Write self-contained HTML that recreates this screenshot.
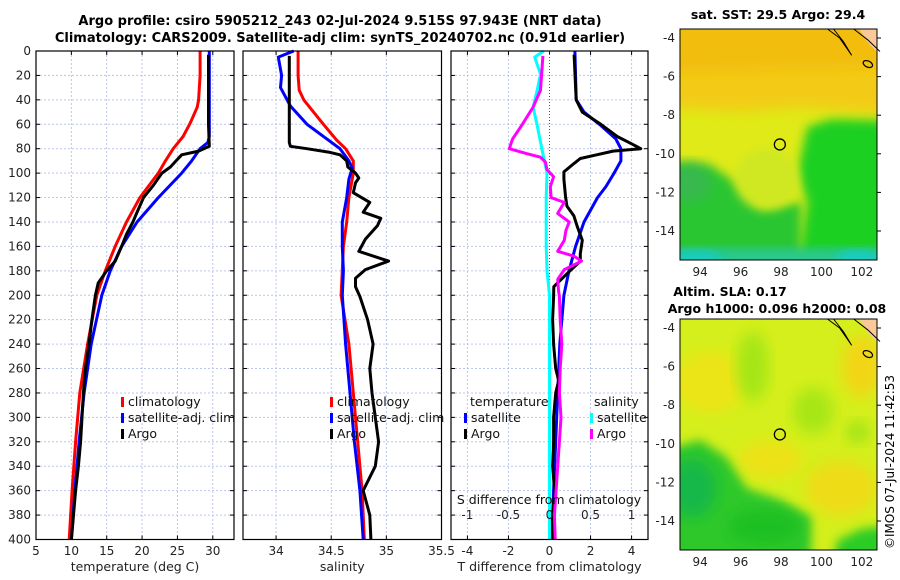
<!DOCTYPE html>
<html><head><meta charset="utf-8"><style>
html,body{margin:0;padding:0;background:#fff;}
svg{display:block;font-family:"DejaVu Sans","Liberation Sans",sans-serif;}
</style></head><body>
<svg id="chart" width="900" height="580" viewBox="0 0 900 580" xmlns="http://www.w3.org/2000/svg">
<defs>
<filter id="blur1" x="-20%" y="-20%" width="140%" height="140%"><feGaussianBlur stdDeviation="7"/></filter>
<filter id="blur2" x="-20%" y="-20%" width="140%" height="140%"><feGaussianBlur stdDeviation="5"/></filter>
<clipPath id="clipMap1"><rect x="680" y="29" width="197" height="231"/></clipPath>
<clipPath id="clipMap2"><rect x="680" y="319" width="197" height="231"/></clipPath>
</defs>
<text x="340" y="25" text-anchor="middle" font-size="13" font-weight="bold">Argo profile: csiro 5905212_243 02-Jul-2024 9.515S 97.943E (NRT data)</text>
<text x="340" y="42" text-anchor="middle" font-size="13" font-weight="bold">Climatology: CARS2009. Satellite-adj clim: synTS_20240702.nc (0.91d earlier)</text>
<text x="778" y="19" text-anchor="middle" font-size="12.5" font-weight="bold">sat. SST: 29.5 Argo: 29.4</text>
<text x="730" y="296" text-anchor="middle" font-size="12.5" font-weight="bold">Altim. SLA: 0.17</text>
<text x="777" y="313" text-anchor="middle" font-size="12.5" font-weight="bold">Argo h1000: 0.096 h2000: 0.08</text>
<text transform="translate(894,462) rotate(-90)" text-anchor="middle" font-size="12">©IMOS 07-Jul-2024 11:42:53</text>
<g id="g"></g>
</svg>
<script>
// ---- data ----
const depthsTempClim = [0,20,40,46,59,70,80,90,100,120,140,160,180,200,240,280,320,360,400];
const tempClim = [28.2,28.2,28.0,27.8,26.8,25.8,24.4,23.3,22.3,19.7,17.8,16.2,14.8,13.6,12.3,11.2,10.6,10.1,9.7];
const depthsTempSat = [0,20,40,60,70,75,80,90,100,120,140,160,180,200,240,280,320,360,400];
const tempSat = [29.5,29.5,29.5,29.5,29.5,29.3,28.2,27.0,25.6,22.3,19.3,17.1,15.5,14.3,12.8,11.8,11.1,10.5,10.0];
const depthsTempArgo = [3,20,40,60,78,82,85,90,95,100,110,120,132,140,150,160,172,180,190,200,220,240,260,280,300,320,340,360,380,400];
const tempArgo = [29.4,29.4,29.4,29.4,29.5,28.0,25.6,24.8,24.0,22.8,21.6,20.2,19.3,18.7,17.8,17.1,16.2,15.0,13.8,13.4,12.9,12.5,12.0,11.7,11.5,11.3,11.0,10.6,10.3,10.0];

const depthsSalClim = [0,20,32,40,59,73,80,90,100,120,140,160,180,200,240,280,320,360,400];
const salClim = [34.20,34.20,34.21,34.25,34.42,34.55,34.63,34.70,34.70,34.66,34.64,34.61,34.60,34.59,34.66,34.70,34.74,34.78,34.80];
const depthsSalSat = [0,5,20,30,45,60,72,80,90,96,105,120,140,160,180,200,240,280,320,360,400];
const salSat = [34.16,34.02,34.05,34.04,34.13,34.28,34.46,34.58,34.66,34.69,34.66,34.64,34.60,34.60,34.61,34.60,34.63,34.67,34.71,34.76,34.79];
const depthsSalArgo = [4,20,40,60,75,78,80,83,85,90,95,100,104,108,116,124,132,137,143,154,164,170,172,179,186,193,201,220,240,260,280,300,320,340,360,380,400];
const salArgo = [34.12,34.12,34.12,34.12,34.12,34.13,34.28,34.49,34.58,34.64,34.65,34.72,34.75,34.72,34.70,34.85,34.79,34.95,34.92,34.81,34.75,34.95,35.02,34.81,34.72,34.72,34.76,34.83,34.88,34.85,34.87,34.90,34.93,34.90,34.79,34.85,34.86];

const depthsTdiffSat = [0,40,50,61,72,80,90,100,111,120,140,160,180,200,240,280,320,360,400];
const tdiffSat = [1.24,1.3,1.68,2.5,3.23,3.48,3.48,3.15,2.75,2.34,1.68,1.27,0.95,0.70,0.5,0.4,0.3,0.2,0.1];
const depthsTdiffArgo = [3,40,50,60,70,76,80,82,85,88,92,99,105,119,127,135,144,155,166,172,182,193,201,220,240,260,270,280,300,320,340,360,380,400];
const tdiffArgo = [1.2,1.3,1.6,2.5,3.3,4.0,4.45,3.1,2.3,1.5,1.2,0.7,0.7,0.78,0.85,1.19,1.36,1.6,1.5,1.5,0.87,0.21,0.2,0.15,0.2,0.3,0.45,0.3,0.2,0.2,0.15,0.25,0.15,0.2];
const depthsSdiffSat = [0,5,19,32,46,61,81,100,120,160,180,200,300,400];
const sdiffSat = [-0.07,-0.18,-0.11,-0.15,-0.2,-0.15,-0.09,-0.03,-0.04,-0.04,-0.03,0,0,0];
const depthsSdiffArgo = [4,32,46,61,72,80,84,87,91,97,103,111,120,124,133,140,147,155,164,168,172,179,187,196,201,220,240,260,280,300,320,340,360,380,400];
const sdiffArgo = [-0.08,-0.11,-0.2,-0.34,-0.45,-0.49,-0.28,-0.11,-0.05,-0.03,0.05,0.01,0.02,0.18,0.1,0.24,0.2,0.18,0.1,0.3,0.39,0.18,0.1,0.11,0.12,0.13,0.15,0.13,0.12,0.14,0.12,0.1,0.08,0.06,0.07];

const depthTicks = [0,20,40,60,80,100,120,140,160,180,200,220,240,260,280,300,320,340,360,380,400];
const tempTicks = [5,10,15,20,25,30];
const salTicks = [34,34.5,35,35.5];
const tdiffTicks = [-4,-2,0,2,4];
const sdiffTicks = [-1,-0.5,0,0.5,1];
const latTicks = [-4,-6,-8,-10,-12,-14];
const lonTicks = [94,96,98,100,102];
const argoLon = 97.943, argoLat = -9.515;

// ---- scales ----
const Y0 = 51, Y1 = 539.5;
function yD(d){ return Y0 + d*(Y1-Y0)/400; }
function lin(d0,d1,r0,r1){ return v => r0 + (v-d0)*(r1-r0)/(d1-d0); }
const xTemp = lin(5,33,36,234);
const xSal = lin(33.7,35.5,243,441.5);
const xTd = lin(-4.8,4.8,451,648);
function xSd(s){ return xTd(4*s); }
function mLon(lon){ return 680 + (lon-93)*20.2; }
function mLat(lat){ return 38 + (-4-lat)*19.3; }

const NS = 'http://www.w3.org/2000/svg';
const root = document.getElementById('g');
function mk(tag, attrs, parent){
  const el = document.createElementNS(NS, tag);
  for (const k in attrs) el.setAttribute(k, attrs[k]);
  (parent||root).appendChild(el);
  return el;
}

function panel(name, x0, x1, xs, ticks, gridTicks, xlabel, showY){
  const g = mk('g', {});
  
  
  depthTicks.forEach(d => {
    const l = mk('line', {x1:x0, x2:x1, y1:yD(d), y2:yD(d), stroke:'#bcc6ee', 'stroke-width':1, 'stroke-dasharray':'2,2'}, g);
    
    
    const t1 = mk('line', {x1:x0, x2:x0+4, y1:yD(d), y2:yD(d), stroke:'#000'}, g);
    
    
    const t2 = mk('line', {x1:x1-4, x2:x1, y1:yD(d), y2:yD(d), stroke:'#000'}, g);
    
    
    if (showY){
      const tx = mk('text', {x:31, y:yD(d)+4, 'text-anchor':'end', 'font-size':12, fill:'#222'}, g);
      
      
      tx.textContent = d;
    }
  });
  gridTicks.forEach(v => {
    const x = xs(v);
    if (x <= x0+1 || x >= x1-1) return;
    const l = mk('line', {x1:x, x2:x, y1:Y0, y2:Y1, stroke:'#bcc6ee', 'stroke-width':1, 'stroke-dasharray':'2,2'}, g);
    
    
  });
  ticks.forEach(v => {
    const x = xs(v);
    const t = mk('line', {x1:x, x2:x, y1:Y1-4, y2:Y1, stroke:'#000'}, g);
    
    
    const t2 = mk('line', {x1:x, x2:x, y1:Y0, y2:Y0+4, stroke:'#000'}, g);
    
    
    const tx = mk('text', {x:x, y:555, 'text-anchor':'middle', 'font-size':12, fill:'#222'}, g);
    
    
    tx.textContent = v;
  });
  const xl = mk('text', {x:(x0+x1)/2, y:571, 'text-anchor':'middle', 'font-size':12.5, fill:'#222'}, g);
  
  
  xl.textContent = xlabel;
  return g;
}

function series(g, name, depths, vals, xs, color, w){
  const pts = depths.map((d,i) => xs(vals[i]).toFixed(1) + ',' + yD(d).toFixed(1)).join(' ');
  const p = mk('polyline', {points:pts, fill:'none', stroke:color, 'stroke-width':w||3, 'stroke-linejoin':'round'}, g);
  
  
}
function frame(g, x0, x1){
  const r = mk('rect', {x:x0, y:Y0, width:x1-x0, height:Y1-Y0, fill:'none', stroke:'#000', 'stroke-width':1.2}, g);
  
  
}
function legendItem(g, x, y, color, label, name){
  const b = mk('rect', {x:x, y:y-9, width:3, height:10, fill:color}, g);
  
  
  const t = mk('text', {x:x+7, y:y, 'font-size':12.5, fill:'#111'}, g);
  
  
  t.textContent = label;
}

// Panel 1: temperature
const p1 = panel('temperature', 36, 234, xTemp, tempTicks, [10,15,20,25,30], 'temperature (deg C)', true);
series(p1, 'temperature-climatology-line', depthsTempClim, tempClim, xTemp, '#ff0000');
series(p1, 'temperature-satellite-line', depthsTempSat, tempSat, xTemp, '#0000ff');
series(p1, 'temperature-argo-line', depthsTempArgo, tempArgo, xTemp, '#000000');
frame(p1, 36, 234);
legendItem(p1, 121, 406, '#ff0000', 'climatology', 'legend-climatology');
legendItem(p1, 121, 422, '#0000ff', 'satellite-adj. clim', 'legend-satellite');
legendItem(p1, 121, 438, '#000000', 'Argo', 'legend-argo');

// Panel 2: salinity
const p2 = panel('salinity', 243, 441.5, xSal, salTicks, [34,34.5,35], 'salinity', false);
series(p2, 'salinity-climatology-line', depthsSalClim, salClim, xSal, '#ff0000');
series(p2, 'salinity-satellite-line', depthsSalSat, salSat, xSal, '#0000ff');
series(p2, 'salinity-argo-line', depthsSalArgo, salArgo, xSal, '#000000');
frame(p2, 243, 441.5);
legendItem(p2, 330, 406, '#ff0000', 'climatology', 'legend-sal-climatology');
legendItem(p2, 330, 422, '#0000ff', 'satellite-adj. clim', 'legend-sal-satellite');
legendItem(p2, 330, 438, '#000000', 'Argo', 'legend-sal-argo');

// Panel 3: differences
const p3 = panel('difference', 451, 648, xTd, tdiffTicks, [-4,-2,2,4], 'T difference from climatology', false);
const zl = mk('line', {x1:xTd(0), x2:xTd(0), y1:Y0, y2:Y1, stroke:'#554', 'stroke-width':1, 'stroke-dasharray':'1,2'}, p3);


series(p3, 'tdiff-satellite-line', depthsTdiffSat, tdiffSat, xTd, '#0000ff');
series(p3, 'tdiff-argo-line', depthsTdiffArgo, tdiffArgo, xTd, '#000000');
series(p3, 'sdiff-satellite-line', depthsSdiffSat, sdiffSat, xSd, '#00ffff');
series(p3, 'sdiff-argo-line', depthsSdiffArgo, sdiffArgo, xSd, '#ff00ff');
frame(p3, 451, 648);
sdiffTicks.forEach(v => {
  const t = mk('text', {x:xSd(v), y:519, 'text-anchor':'middle', 'font-size':12, fill:'#222'}, p3);
  
  
  t.textContent = v;
});
const st = mk('text', {x:549, y:504, 'text-anchor':'middle', 'font-size':12.5, fill:'#111'}, p3);


st.textContent = 'S difference from climatology';
const lt1 = mk('text', {x:470, y:406, 'font-size':12.5, fill:'#111'}, p3);


lt1.textContent = 'temperature';
const lt2 = mk('text', {x:594, y:406, 'font-size':12.5, fill:'#111'}, p3);


lt2.textContent = 'salinity';
legendItem(p3, 464, 422, '#0000ff', 'satellite', 'legend-tdiff-satellite');
legendItem(p3, 464, 438, '#000000', 'Argo', 'legend-tdiff-argo');
legendItem(p3, 590, 422, '#00ffff', 'satellite', 'legend-sdiff-satellite');
legendItem(p3, 590, 438, '#ff00ff', 'Argo', 'legend-sdiff-argo');

// ---- maps ----
function blob(g, lon, lat, rxDeg, ryDeg, color, off, filt){
  const e = mk('ellipse', {cx:mLon(lon), cy:mLat(lat)+off, rx:rxDeg*20.2, ry:ryDeg*19.3, fill:color, filter:'url(#'+(filt||'blur1')+')'}, g);
  
  
}
function poly(g, pts, color, off, filt){
  const s = pts.map(p => mLon(p[0]).toFixed(1)+','+(mLat(p[1])+off).toFixed(1)).join(' ');
  const e = mk('polygon', {points:s, fill:color, filter: filt ? 'url(#'+filt+')' : ''}, g);
  
  
}
function mapAxes(g, off, name){
  latTicks.forEach(v => {
    const y = mLat(v)+off;
    const t = mk('text', {x:675, y:y+4, 'text-anchor':'end', 'font-size':12, fill:'#222'}, g);
    
    
    t.textContent = v;
    const tk = mk('line', {x1:877, x2:881, y1:y, y2:y, stroke:'#000'}, g);
    
    
  });
  lonTicks.forEach(v => {
    const t = mk('text', {x:mLon(v), y:off+276, 'text-anchor':'middle', 'font-size':12, fill:'#222'}, g);
    
    
    t.textContent = v;
  });
  const c1 = mk('path', {d:'M'+mLon(100.3)+','+(29+off)+' L'+mLon(100.9)+','+(mLat(-4.0)+off)+' L'+mLon(101.5)+','+(mLat(-4.9)+off)+' L'+mLon(101.1)+','+(mLat(-4.2)+off)+' L'+mLon(100.6)+','+(29+off), fill:'none', stroke:'#000', 'stroke-width':1}, g);
  
  
  const c2 = mk('path', {d:'M'+mLon(101.6)+','+(29+off)+' L'+mLon(102.3)+','+(mLat(-4.1)+off)+' L'+mLon(102.9)+','+(mLat(-4.7)+off), fill:'none', stroke:'#000', 'stroke-width':1}, g);
  
  
  const isl = mk('ellipse', {cx:mLon(102.3), cy:mLat(-5.35)+off, rx:5, ry:3, fill:'none', stroke:'#000', 'stroke-width':1.2, transform:'rotate(25 '+mLon(102.3)+' '+(mLat(-5.35)+off)+')'}, g);
  
  
  const mk1 = mk('circle', {cx:mLon(argoLon), cy:mLat(argoLat)+off, r:5.5, fill:'none', stroke:'#000', 'stroke-width':1.3}, g);
  
  
  const fr = mk('rect', {x:680, y:29+off, width:197, height:231, fill:'none', stroke:'#000', 'stroke-width':1}, g);
  
  
}

// map 1 : SST
const m1 = mk('g', {});


const m1c = mk('g', {'clip-path':'url(#clipMap1)'}, m1);
const bg1 = mk('rect', {x:680, y:29, width:197, height:231, fill:'#e0ea18'}, m1c);


poly(m1c, [[92,-3],[104,-3],[104,-8],[99,-7.6],[96,-7.8],[92,-7.6]], '#f3cb12', 0, 'blur1');
poly(m1c, [[92,-3],[104,-3],[104,-5.5],[92,-5.8]], '#f2bd10', 0, 'blur1');
poly(m1c, [[99.3,-8.6],[100.5,-8.2],[104,-8.3],[104,-16],[98.8,-16],[99.3,-12.5],[98.8,-11]], '#1fd022', 0, 'blur2');
poly(m1c, [[92,-10.4],[94.5,-10.6],[95.8,-11.5],[97,-12.8],[99,-12.5],[99,-16],[92,-16]], '#29c630', 0, 'blur2');
blob(m1c, 97.3, -11.3, 1.6, 1.6, '#cfe820', 0, 'blur2');
blob(m1c, 93.5, -11.5, 1.0, 1.0, '#38b850', 0);
poly(m1c, [[92,-14.9],[104,-14.9],[104,-16],[92,-16]], '#2cc890', 0, 'blur2');
blob(m1c, 93.8, -15.4, 1.3, 0.4, '#18ccc0', 0, 'blur2');
blob(m1c, 101.8, -15.4, 1.1, 0.4, '#18ccc8', 0, 'blur2');
poly(m1c, [[101.6,-3],[104,-3],[104,-4.7],[102.8,-4.8],[102.2,-4.1]], '#fbc89a', 0);
mapAxes(m1, 0, 'sst-map');

// map 2 : SLA
const OFF2 = 290;
const m2 = mk('g', {});


const m2c = mk('g', {'clip-path':'url(#clipMap2)'}, m2);
const bg2 = mk('rect', {x:680, y:319, width:197, height:231, fill:'#d4ef1c'}, m2c);


blob(m2c, 94.5, -6.8, 1.8, 1.6, '#ebe418', OFF2);
blob(m2c, 102, -6, 1.0, 1.6, '#f2d614', OFF2);
blob(m2c, 97.5, -10.8, 1.6, 1.0, '#ece216', OFF2);
blob(m2c, 101, -12.3, 1.8, 1.4, '#eedc16', OFF2);
blob(m2c, 96.6, -6, 0.8, 1.8, '#a6e614', OFF2);
blob(m2c, 99.6, -8.3, 1.0, 1.2, '#a8e614', OFF2);
blob(m2c, 101.8, -9.4, 0.6, 0.6, '#a4e414', OFF2);
poly(m2c, [[92,-10.4],[94,-9.8],[95.3,-10.7],[96.3,-12.3],[98,-12.9],[99.5,-13.8],[99.5,-16],[92,-16]], '#2fc82a', OFF2, 'blur2');
blob(m2c, 93.6, -12.3, 1.2, 1.5, '#14b848', OFF2);
blob(m2c, 97.2, -14.3, 1.8, 0.9, '#1ec020', OFF2);
poly(m2c, [[100.6,-16],[100.8,-15],[102,-14.4],[104,-14.2],[104,-16]], '#2ccc28', OFF2, 'blur2');
poly(m2c, [[101.6,-3],[104,-3],[104,-4.7],[102.8,-4.8],[102.2,-4.1]], '#fbc89a', OFF2);
mapAxes(m2, OFF2, 'sla-map');
</script>
</body></html>
